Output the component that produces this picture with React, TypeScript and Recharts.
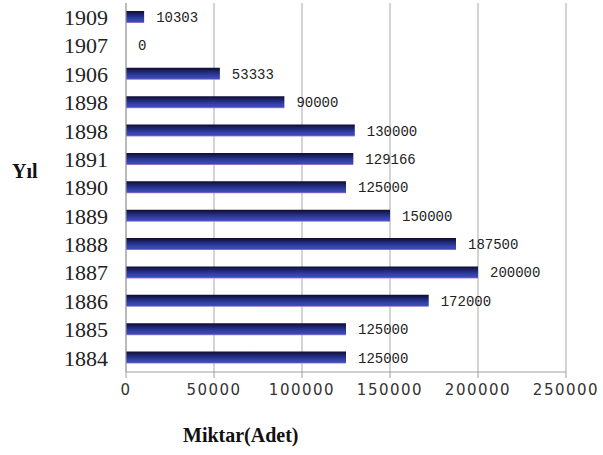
import { BarChart, Bar, XAxis, YAxis, CartesianGrid, LabelList } from 'recharts';

// rows top to bottom as they appear in the picture
const years = ['1909', '1907', '1906', '1898', '1898', '1891', '1890', '1889', '1888', '1887', '1886', '1885', '1884'];
const amounts = [10303, 0, 53333, 90000, 130000, 129166, 125000, 150000, 187500, 200000, 172000, 125000, 125000];
const xTicks = [0, 50000, 100000, 150000, 200000, 250000];

const data = years.map((year, i) => ({ year, amount: amounts[i] }));

const serif = '"Liberation Serif", "Times New Roman", serif';

// value written just right of the bar end (also for the zero bar)
const valueLabel = (props: any) => {
  const { x, y, width, height, value } = props;
  return (
    <text
      x={Number(x) + Number(width || 0) + 12}
      y={Number(y) + Number(height) / 2}
      dy={5}
      fill="#222"
      fontSize={14}
      fontFamily='"Liberation Mono", monospace'
    >
      {value}
    </text>
  );
};

export default function App() {
  return (
    <div style={{ position: 'absolute', left: 0, top: 0, width: 603, height: 455, background: '#fff' }}>
      <BarChart
        width={603}
        height={455}
        data={data}
        layout="vertical"
        margin={{ top: 3, right: 37, bottom: 55, left: 0 }}
      >
        <defs>
          <linearGradient id="barFill" x1="0" y1="0" x2="0" y2="1">
            <stop offset="0%" stopColor="#0d0d2e" />
            <stop offset="30%" stopColor="#1f2470" />
            <stop offset="70%" stopColor="#3344aa" />
            <stop offset="88%" stopColor="#3a4ab8" />
            <stop offset="100%" stopColor="#b080d8" />
          </linearGradient>
        </defs>
        <CartesianGrid horizontal={false} stroke="#a8a8a8" />
        <XAxis
          type="number"
          domain={[0, 250000]}
          ticks={xTicks}
          height={28}
          stroke="#a0a0a0"
          tickSize={6}
          tickMargin={6}
          tick={{ fill: '#333', fontSize: 15, fontFamily: '"DejaVu Sans", sans-serif', letterSpacing: 1.5 }}
        />
        <YAxis
          type="category"
          dataKey="year"
          width={126}
          interval={0}
          stroke="#a0a0a0"
          tickLine={false}
          tickSize={0}
          tickMargin={18}
          tick={{ fill: '#222', fontSize: 22, fontFamily: serif }}
        />
        <Bar dataKey="amount" fill="url(#barFill)" barSize={12} minPointSize={0.01} isAnimationActive={false}>
          <LabelList dataKey="amount" content={valueLabel} />
        </Bar>
      </BarChart>
      <div
        style={{
          position: 'absolute',
          left: 12,
          top: 160,
          fontFamily: serif,
          fontWeight: 'bold',
          fontSize: 20,
          color: '#111',
        }}
      >
        Yıl
      </div>
      <div
        style={{
          position: 'absolute',
          left: 183,
          top: 424,
          fontFamily: serif,
          fontWeight: 'bold',
          fontSize: 20,
          color: '#111',
        }}
      >
        Miktar(Adet)
      </div>
    </div>
  );
}
